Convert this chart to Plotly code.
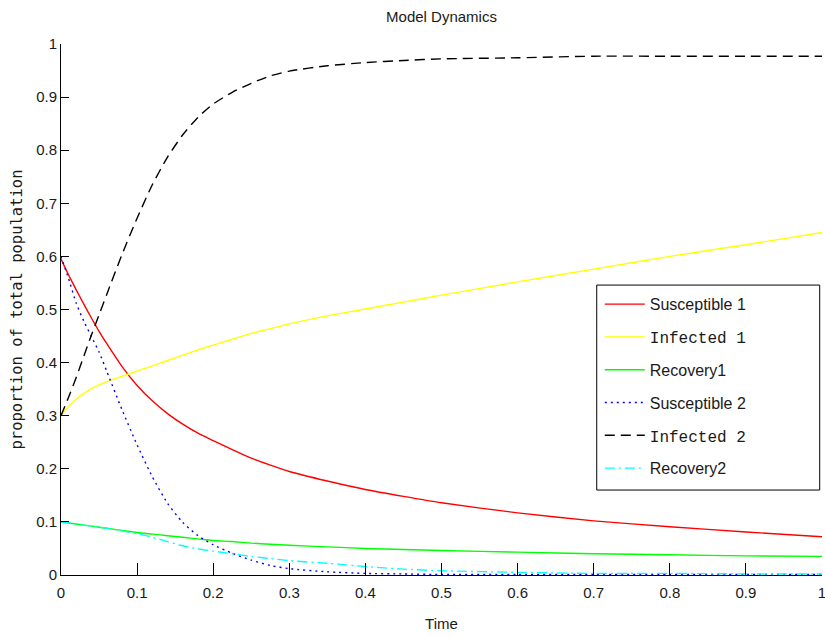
import plotly.graph_objects as go

# ---- data ----
time = [0, 0.01, 0.02, 0.03, 0.04, 0.05, 0.06, 0.08, 0.10, 0.12, 0.14, 0.16, 0.18,
        0.20, 0.225, 0.25, 0.275, 0.30, 0.35, 0.40, 0.45, 0.50, 0.60, 0.70, 0.80, 0.90, 1.00]

susceptible1 = [0.595, 0.565, 0.537, 0.510, 0.484, 0.459, 0.436, 0.393, 0.357, 0.328, 0.304,
                0.284, 0.267, 0.253, 0.236, 0.220, 0.207, 0.195, 0.177, 0.161, 0.148, 0.136,
                0.117, 0.102, 0.091, 0.081, 0.072]
infected1 = [0.300, 0.318, 0.331, 0.342, 0.351, 0.358, 0.364, 0.374, 0.384, 0.394, 0.404,
             0.414, 0.424, 0.433, 0.444, 0.455, 0.464, 0.473, 0.488, 0.501, 0.514, 0.527,
             0.552, 0.576, 0.600, 0.622, 0.645]
recovery1 = [0.100, 0.098, 0.096, 0.094, 0.092, 0.090, 0.088, 0.084, 0.080, 0.077, 0.074,
             0.071, 0.068, 0.065, 0.063, 0.060, 0.058, 0.056, 0.053, 0.050, 0.048, 0.046,
             0.043, 0.040, 0.038, 0.036, 0.035]
susceptible2 = [0.600, 0.558, 0.512, 0.478, 0.449, 0.420, 0.384, 0.312, 0.245, 0.185, 0.135,
                0.099, 0.074, 0.057, 0.041, 0.028, 0.018, 0.012, 0.006, 0.003, 0.002, 0.001,
                0.001, 0.001, 0.001, 0.001, 0.001]
infected2 = [0.300, 0.335, 0.372, 0.412, 0.452, 0.490, 0.528, 0.603, 0.672, 0.735, 0.787,
             0.829, 0.862, 0.887, 0.909, 0.926, 0.940, 0.949, 0.959, 0.965, 0.969, 0.972,
             0.974, 0.977, 0.977, 0.977, 0.977]
recovery2 = [0.100, 0.098, 0.096, 0.094, 0.092, 0.090, 0.088, 0.083, 0.078, 0.071, 0.063,
             0.055, 0.049, 0.045, 0.040, 0.035, 0.031, 0.027, 0.022, 0.016, 0.011, 0.008,
             0.005, 0.003, 0.003, 0.002, 0.002]

tick_vals = [0, 0.1, 0.2, 0.3, 0.4, 0.5, 0.6, 0.7, 0.8, 0.9, 1]
tick_text = ["0", "0.1", "0.2", "0.3", "0.4", "0.5", "0.6", "0.7", "0.8", "0.9", "1"]

series = [
    ("Susceptible 1", susceptible1, "#ff0000", "solid"),
    ('<span style="font-family:Liberation Mono">Infected 1</span>', infected1, "#ffff00", "solid"),
    ("Recovery1", recovery1, "#00ff00", "solid"),
    ("Susceptible 2", susceptible2, "#0000ff", "2px,4px"),
    ('<span style="font-family:Liberation Mono">Infected 2</span>', infected2, "#000000", "10px,6px"),
    ("Recovery2", recovery2, "#00ffff", "10px,4px,2px,4px"),
]

fig = go.Figure()
for i, (name, vals, color, dash) in enumerate(series):
    fig.add_trace(go.Scatter(
        x=time, y=vals, mode="lines", name=name, legendgroup=f"g{i}",
        line=dict(color=color, width=1.4, dash=dash, shape="spline", smoothing=0.6),
    ))

TXT = "#1a1a1a"
fig.update_layout(
    width=825, height=638, autosize=False,
    margin=dict(l=61, r=3, t=44, b=63, autoexpand=False),
    paper_bgcolor="white", plot_bgcolor="white",
    font=dict(family="Liberation Sans", size=15, color=TXT),
    title=dict(text="Model Dynamics", x=0.5, xref="paper", y=1 - 17 / 638, yref="container",
               xanchor="center", yanchor="middle", font=dict(size=15, color=TXT),
               automargin=False),
    showlegend=True,
    legend=dict(x=0.708, y=0.542, xanchor="left", yanchor="top", bgcolor="rgba(0,0,0,0)",
                borderwidth=0, font=dict(size=16, color=TXT), tracegroupgap=9,
                itemwidth=40),
    shapes=[dict(type="rect", xref="paper", yref="paper", x0=0.704, x1=0.997,
                 y0=0.160, y1=0.546, line=dict(color="#000000", width=1),
                 fillcolor="white", layer="below")],
    xaxis=dict(range=[0, 1], tickvals=tick_vals, ticktext=tick_text, ticks="inside",
               ticklen=12, tickcolor="#000", showline=True, linecolor="#000", linewidth=1,
               showgrid=False, zeroline=False, mirror=False, automargin=False,
               ticklabelstandoff=4, ticklabeloverflow="allow",
               title=dict(text="Time", standoff=18, font=dict(size=15))),
    yaxis=dict(range=[0, 1], tickvals=tick_vals, ticktext=tick_text, ticks="inside",
               ticklen=8, tickcolor="#000", showline=True, linecolor="#000", linewidth=1,
               showgrid=False, zeroline=False, mirror=False, automargin=False,
               ticklabeloverflow="allow",
               title=dict(text="proportion of total population", standoff=9,
                          font=dict(family="DejaVu Sans Mono", size=15.5))),
)

fig.write_html("out.html", config={"displayModeBar": False},
               post_script="document.body.style.margin='0';")
